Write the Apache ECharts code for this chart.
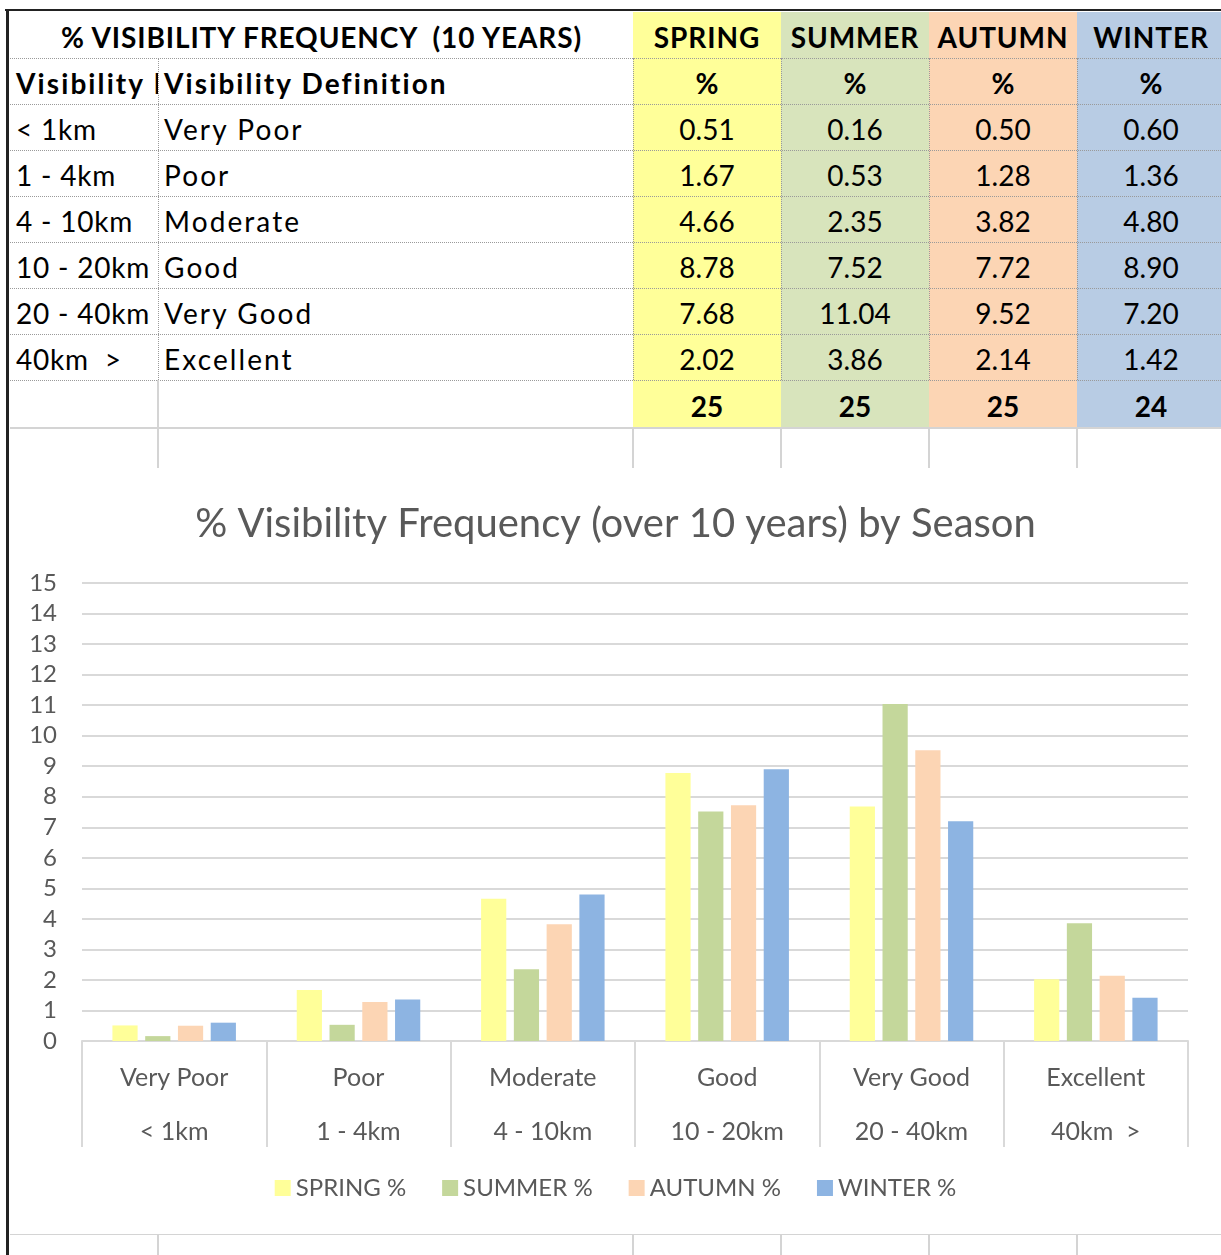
<!DOCTYPE html>
<html>
<head>
<meta charset="utf-8">
<script src="https://cdn.jsdelivr.net/npm/echarts@6/dist/echarts.min.js"></script>
<style>
  html, body { margin: 0; padding: 0; background: #fff; }
  #sheet { position: relative; width: 1221px; height: 1255px; overflow: hidden; font-family: Lato, sans-serif; color: #000; }
  .cell { position: absolute; box-sizing: border-box; overflow: hidden; white-space: pre; display: flex; align-items: center; font-size: 28px; padding-top: 3px; }
  .c { justify-content: center; }
  .b { font-weight: bold; }
  .w { letter-spacing: 2.1px; }
  .n { letter-spacing: 0.8px; }
  .t { letter-spacing: 0.9px; }
  .line { position: absolute; }
  #chart { position: absolute; left: 10px; top: 468px; width: 1211px; height: 766px; background: #fff; }
</style>
</head>
<body>
<div id="sheet">
  <div id="chart"></div>
</div>
<script>
const distances = ['< 1km', '1 - 4km', '4 - 10km', '10 - 20km', '20 - 40km', '40km  >'];
const definitions = ['Very Poor', 'Poor', 'Moderate', 'Good', 'Very Good', 'Excellent'];
const seasons = ['SPRING', 'SUMMER', 'AUTUMN', 'WINTER'];
const spring = [0.51, 1.67, 4.66, 8.78, 7.68, 2.02];
const summer = [0.16, 0.53, 2.35, 7.52, 11.04, 3.86];
const autumn = [0.50, 1.28, 3.82, 7.72, 9.52, 2.14];
const winter = [0.60, 1.36, 4.80, 8.90, 7.20, 1.42];
const yTicks = [0, 15, 1];

const seasonData = [spring, summer, autumn, winter];
const tableFill = ['#FFFF99', '#D8E4BC', '#FCD5B4', '#B8CCE4'];
const barFill = ['#FFFF99', '#C4D79B', '#FCD5B4', '#8DB4E2'];

// spreadsheet grid
const colX = [10, 158, 633, 781, 929, 1077, 1225];
const rowY = [12, 58, 104, 150, 196, 242, 288, 334, 380, 428, 468];
const sheet = document.getElementById('sheet');
const chartEl = document.getElementById('chart');

function cell(c0, c1, r, text, cls, bg, pad) {
  const d = document.createElement('div');
  d.className = 'cell ' + (cls || '');
  d.style.left = colX[c0] + 'px';
  d.style.width = (colX[c1] - colX[c0]) + 'px';
  d.style.top = rowY[r] + 'px';
  d.style.height = (rowY[r + 1] - rowY[r]) + 'px';
  if (bg) d.style.background = bg;
  if (pad != null) d.style.paddingLeft = pad + 'px';
  d.textContent = text;
  sheet.insertBefore(d, chartEl);
  return d;
}
function line(x, y, w, h, css) {
  const d = document.createElement('div');
  d.className = 'line';
  d.style.left = x + 'px'; d.style.top = y + 'px';
  d.style.width = w + 'px'; d.style.height = h + 'px';
  Object.assign(d.style, css);
  sheet.insertBefore(d, chartEl);
}

cell(0, 2, 0, '% VISIBILITY FREQUENCY  (10 YEARS)', 'c b t');
seasons.forEach((s, i) => cell(i + 2, i + 3, 0, s, 'c b t', tableFill[i]));
cell(0, 1, 1, 'Visibility Distance', 'b w', null, 6);
cell(1, 2, 1, 'Visibility Definition', 'b w', null, 6);
seasons.forEach((s, i) => cell(i + 2, i + 3, 1, '%', 'c b', tableFill[i]));
distances.forEach((d, r) => {
  cell(0, 1, r + 2, d, 'n', null, 6);
  cell(1, 2, r + 2, definitions[r], 'w', null, 6);
  seasonData.forEach((arr, i) => cell(i + 2, i + 3, r + 2, arr[r].toFixed(2), 'c', tableFill[i]));
});
seasonData.forEach((arr, i) => {
  const total = Math.round(arr.reduce((a, v) => a + v, 0));
  cell(i + 2, i + 3, 8, String(total), 'c b', tableFill[i]);
});

// dotted cell borders for the data block
const dotted = { borderTop: '1px dotted #9a9a9a' };
for (let r = 1; r <= 8; r++) line(10, rowY[r], 1215, 0, dotted);
[158, 633, 781, 929, 1077].forEach(x => line(x, 58, 0, 322, { borderLeft: '1px dotted #9a9a9a' }));
// solid light grid below
line(10, 427, 1215, 2, { background: '#d4d4d4' });
line(157, 380, 2, 88, { background: '#d4d4d4' });
[633, 781, 929, 1077].forEach(x => line(x - 1, 428, 2, 40, { background: '#d4d4d4' }));
line(10, 1233, 1215, 2, { background: '#d4d4d4' });
[158, 633, 781, 929, 1077].forEach(x => line(x - 1, 1235, 2, 20, { background: '#d4d4d4' }));
// dark frame
line(5, 9, 1220, 2, { background: '#222' });
line(6, 9, 3, 1246, { background: '#222' });

const chart = echarts.init(chartEl);
const grey = '#595959';
chart.setOption({
  animation: false,
  textStyle: { fontFamily: 'Lato, sans-serif' },
  title: {
    text: '% Visibility Frequency (over 10 years) by Season',
    left: 'center',
    top: 31,
    textStyle: { color: grey, fontSize: 40, fontWeight: 'normal' }
  },
  legend: {
    data: seasons.map(s => s + ' %'),
    bottom: 29,
    left: 'center',
    itemWidth: 16,
    itemHeight: 16,
    itemGap: 36,
    icon: 'rect',
    textStyle: { color: grey, fontSize: 24 }
  },
  grid: { left: 72, right: 33, top: 115, bottom: 193 },
  xAxis: {
    type: 'category',
    data: definitions.map((d, i) => d + '\n' + distances[i]),
    axisLine: { lineStyle: { color: '#d9d9d9', width: 2 } },
    axisTick: { show: true, length: 106, interval: 0, lineStyle: { color: '#d9d9d9', width: 2 } },
    axisLabel: { color: grey, fontSize: 25, lineHeight: 54, margin: 10, interval: 0 }
  },
  yAxis: {
    type: 'value',
    min: yTicks[0],
    max: yTicks[1],
    interval: yTicks[2],
    axisLine: { show: false },
    axisTick: { show: false },
    axisLabel: { color: grey, fontSize: 24, margin: 25 },
    splitLine: { lineStyle: { color: '#d9d9d9', width: 2 } }
  },
  series: seasonData.map((arr, i) => ({
    name: seasons[i] + ' %',
    type: 'bar',
    data: arr,
    barGap: '30%',
    barCategoryGap: '33%',
    itemStyle: { color: barFill[i] }
  }))
});
</script>
</body>
</html>
